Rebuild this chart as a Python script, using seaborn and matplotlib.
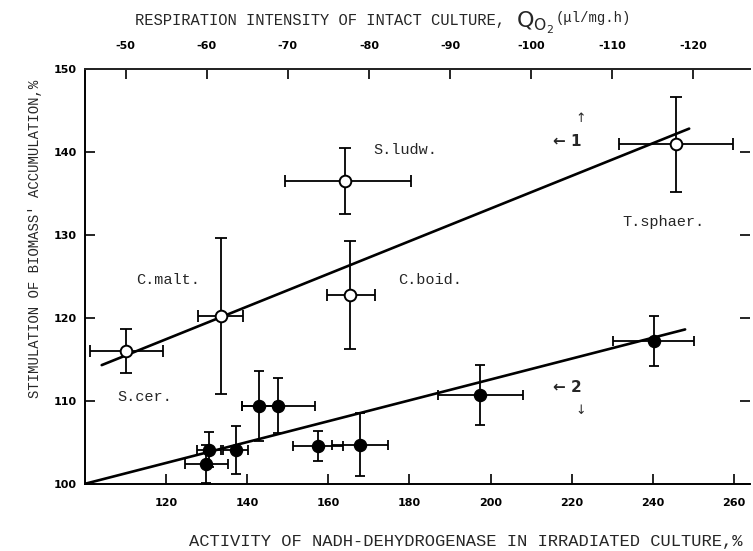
import numpy as np
import pandas as pd
import matplotlib
matplotlib.use("Agg")
import matplotlib.pyplot as plt
import seaborn as sns

# curve 1: open circles (respiration of intact culture, top axis)
open_names = ['S.cer.', 'C.malt.', 'S.ludw.', 'C.boid.', 'T.sphaer.']
open_x = [110.0, 133.6, 164.0, 165.4, 245.7]
open_y = [116.0, 120.2, 136.5, 122.8, 140.9]
open_xerr_lo = [8.8, 5.8, 14.6, 5.7, 14.0]
open_xerr_hi = [9.2, 5.3, 16.5, 6.2, 14.1]
open_yerr = [2.6, 9.4, 4.0, 6.5, 5.7]

# curve 2: filled circles (NADH-dehydrogenase in irradiated culture)
fill_x = [129.9, 130.6, 137.1, 142.8, 147.7, 157.5, 167.8, 197.5, 240.3]
fill_y = [102.4, 104.1, 104.1, 109.4, 109.4, 104.6, 104.7, 110.7, 117.2]
fill_xerr = [5.3, 3.0, 3.0, 4.0, 9.0, 6.2, 7.0, 10.4, 10.0]
fill_yerr = [2.3, 2.1, 2.9, 4.2, 3.3, 1.8, 3.8, 3.6, 3.0]

# fitted lines (end points)
line1_x = [104.1, 249.0]
line1_y = [114.3, 142.8]
line2_x = [100.0, 248.0]
line2_y = [100.0, 118.6]

# axis ticks
bottom_ticks = [120, 140, 160, 180, 200, 220, 240, 260]
top_ticks = [-50, -60, -70, -80, -90, -100, -110, -120]
y_ticks = [100, 110, 120, 130, 140, 150]

df1 = pd.DataFrame({'x': open_x, 'y': open_y, 'name': open_names})
df2 = pd.DataFrame({'x': fill_x, 'y': fill_y})

sns.set_theme(style="ticks")
plt.rcParams['font.family'] = ['DejaVu Sans']
mono = 'Liberation Mono'

fig = plt.figure(figsize=(7.53, 5.51), dpi=100)
ax = fig.add_axes([0.113, 0.122, 0.883, 0.753])

# error bars
ax.errorbar(open_x, open_y, xerr=[open_xerr_lo, open_xerr_hi], yerr=open_yerr,
            fmt='none', ecolor='black', elinewidth=1.3, capsize=4, capthick=1.3, zorder=2)
ax.errorbar(fill_x, fill_y, xerr=fill_xerr, yerr=fill_yerr,
            fmt='none', ecolor='black', elinewidth=1.3, capsize=3.5, capthick=1.3, zorder=2)

# regression lines
sns.lineplot(x=line1_x, y=line1_y, ax=ax, color='black', linewidth=1.9, zorder=3)
sns.lineplot(x=line2_x, y=line2_y, ax=ax, color='black', linewidth=1.9, zorder=3)

# markers
sns.scatterplot(data=df1, x='x', y='y', ax=ax, marker='o', s=70, color='white',
                edgecolor='black', linewidth=1.4, zorder=4)
sns.scatterplot(data=df2, x='x', y='y', ax=ax, marker='o', s=75, color='black',
                edgecolor='black', linewidth=1, zorder=4)

# species labels
label_pos = [(108.0, 110.4), (112.6, 124.6), (171.0, 140.2), (177.3, 124.6), (232.6, 131.5)]
for name, (lx, ly) in zip(open_names, label_pos):
    ax.text(lx, ly, name, family=mono, fontsize=11, ha='left', va='center')

# curve numbers with arrows
ax.text(215.5, 141.3, '\u2190 1', fontsize=11, fontweight='bold', ha='left', va='center')
ax.text(222.3, 144.0, '\u2191', fontsize=9, ha='center', va='center')
ax.text(215.5, 111.6, '\u2190 2', fontsize=11, fontweight='bold', ha='left', va='center')
ax.text(222.3, 108.8, '\u2193', fontsize=9, ha='center', va='center')

ax.set_xlim(100, 264)
ax.set_ylim(100, 150)
ax.set_xticks(bottom_ticks)
ax.set_yticks(y_ticks)
ax.set_xticklabels([str(t) for t in bottom_ticks], fontsize=8, fontweight='bold')
ax.set_yticklabels([str(t) for t in y_ticks], fontsize=8, fontweight='bold')
ax.tick_params(axis='x', direction='in', length=7, width=1.2, pad=10, colors='black')
ax.tick_params(axis='y', direction='in', length=7, width=1.2, pad=6, colors='black', right=True)
ax.set_xlabel('')
ax.set_ylabel('')
for side in ['left', 'top', 'bottom']:
    ax.spines[side].set_linewidth(1.4)
    ax.spines[side].set_color('black')
ax.spines['right'].set_visible(False)

# top axis: Q_O2, linked as b = 10 - 2*Q
top = ax.twiny()
top.set_xlim((10 - 100) / 2, (10 - 264) / 2)
top.set_xticks(top_ticks)
top.set_xticklabels([str(t) for t in top_ticks], fontsize=8, fontweight='bold')
top.tick_params(axis='x', direction='in', length=7, width=1.2, pad=13, colors='black')
for side in ['left', 'right', 'bottom']:
    top.spines[side].set_visible(False)
top.spines['top'].set_linewidth(1.4)

# axis titles
fig.text(0.619, 0.018, 'ACTIVITY OF NADH-DEHYDROGENASE IN IRRADIATED CULTURE,%',
         family=mono, fontsize=12.3, ha='center', va='center')
fig.text(0.046, 0.566, "STIMULATION OF BIOMASS' ACCUMULATION,%",
         family=mono, fontsize=10, rotation=90, ha='center', va='center')
fig.text(0.671, 0.962, 'RESPIRATION INTENSITY OF INTACT CULTURE,',
         family=mono, fontsize=11.2, ha='right', va='center')
fig.text(0.685, 0.958, r'$\mathregular{Q_{O_2}}$', fontsize=16, ha='left', va='center')
fig.text(0.738, 0.968, '(\u03bcl/mg.h)', family=mono, fontsize=10, ha='left', va='center')

fig.savefig('out.png', dpi=100)
